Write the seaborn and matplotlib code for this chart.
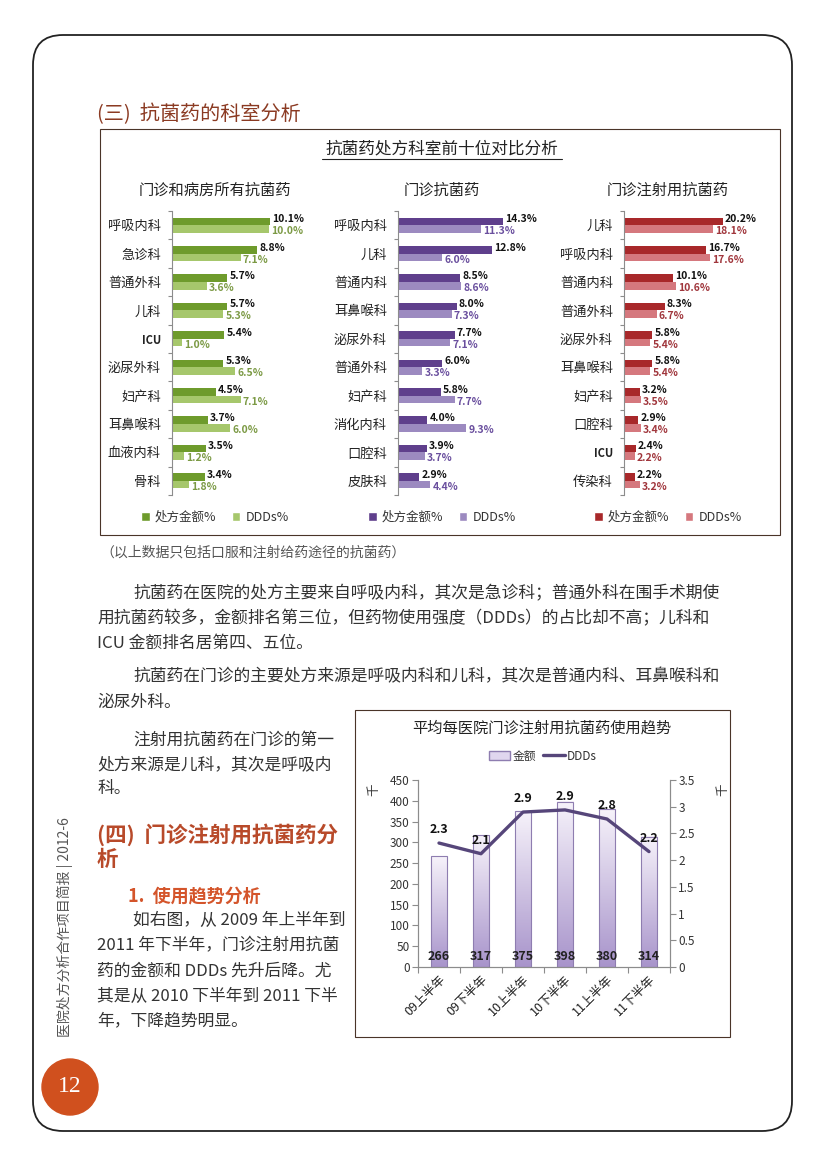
import numpy as np
import pandas as pd
import matplotlib
matplotlib.use('Agg')
import matplotlib.pyplot as plt
import seaborn as sns
from matplotlib.patches import FancyBboxPatch, Rectangle, Circle, Patch
from matplotlib.lines import Line2D
from matplotlib.colors import LinearSegmentedColormap

# 门诊和病房所有抗菌药（%）
dept_all = ['呼吸内科', '急诊科', '普通外科', '儿科', 'ICU', '泌尿外科', '妇产科', '耳鼻喉科', '血液内科', '骨科']
amt_all = [10.1, 8.8, 5.7, 5.7, 5.4, 5.3, 4.5, 3.7, 3.5, 3.4]
ddd_all = [10.0, 7.1, 3.6, 5.3, 1.0, 6.5, 7.1, 6.0, 1.2, 1.8]

# 门诊抗菌药（%）
dept_out = ['呼吸内科', '儿科', '普通内科', '耳鼻喉科', '泌尿外科', '普通外科', '妇产科', '消化内科', '口腔科', '皮肤科']
amt_out = [14.3, 12.8, 8.5, 8.0, 7.7, 6.0, 5.8, 4.0, 3.9, 2.9]
ddd_out = [11.3, 6.0, 8.6, 7.3, 7.1, 3.3, 7.7, 9.3, 3.7, 4.4]

# 门诊注射用抗菌药（%）
dept_inj = ['儿科', '呼吸内科', '普通内科', '普通外科', '泌尿外科', '耳鼻喉科', '妇产科', '口腔科', 'ICU', '传染科']
amt_inj = [20.2, 16.7, 10.1, 8.3, 5.8, 5.8, 3.2, 2.9, 2.4, 2.2]
ddd_inj = [18.1, 17.6, 10.6, 6.7, 5.4, 5.4, 3.5, 3.4, 2.2, 3.2]

# 平均每医院门诊注射用抗菌药使用趋势（千）
periods = ['09上半年', '09下半年', '10上半年', '10下半年', '11上半年', '11下半年']
amount = [266, 317, 375, 398, 380, 314]
ddds = [2.32, 2.12, 2.90, 2.94, 2.77, 2.16]

sns.set_theme(style='white')
plt.rcParams['font.family'] = ['Noto Sans CJK SC', 'DejaVu Sans']
plt.rcParams['axes.unicode_minus'] = False

W, H = 827, 1169
fig = plt.figure(figsize=(W / 100, H / 100), dpi=100)


def box(x0, y0, x1, y1):
    # 像素框 -> figure 坐标
    return [x0 / W, 1 - y1 / H, (x1 - x0) / W, (y1 - y0) / H]


page = fig.add_axes([0, 0, 1, 1])
page.set_xlim(0, W)
page.set_ylim(H, 0)
page.axis('off')

# 页面边框
page.add_patch(FancyBboxPatch((33, 35), 759, 1096, boxstyle='round,pad=0,rounding_size=30',
                              fill=False, edgecolor='#222222', lw=1.3))
page.add_patch(Rectangle((100, 129), 680, 406, fill=False, edgecolor='#4a3428', lw=0.8))
page.add_patch(Rectangle((355, 710), 375, 327, fill=False, edgecolor='#4a3428', lw=0.8))

page.text(97, 114, '(三)  抗菌药的科室分析', fontsize=14.5, color='#8b3a22', va='center')
page.text(442, 149, '抗菌药处方科室前十位对比分析', fontsize=12, color='#222222', ha='center', va='center')
page.plot([322, 562], [158.5, 158.5], color='#222222', lw=0.8)


def dept_panel(x0, x1, xmax, depts, amt, ddd, dark, light, lab_color, title, cx):
    ax = fig.add_axes(box(x0, 211, x1, 495))
    ax.set_facecolor('none')
    df = pd.DataFrame({'科室': depts * 2,
                       '指标': ['处方金额%'] * len(depts) + ['DDDs%'] * len(depts),
                       '占比': amt + ddd})
    sns.barplot(data=df, y='科室', x='占比', hue='指标', orient='h', palette=[dark, light],
                width=0.54, saturation=1, linewidth=0, legend=False, ax=ax)
    ax.set_xlim(0, xmax)
    ax.set_ylim(9.5, -0.5)
    ax.set_xlabel('')
    ax.set_ylabel('')
    ax.set_xticks([])
    for s in ['top', 'right', 'bottom']:
        ax.spines[s].set_visible(False)
    ax.spines['left'].set_color('#8c8c8c')
    ax.spines['left'].set_linewidth(0.8)
    ax.set_yticks(np.arange(-0.5, 10, 1), minor=True)
    ax.tick_params(axis='y', which='minor', left=True, length=3, width=0.8, color='#8c8c8c')
    ax.tick_params(axis='y', which='major', length=0, pad=8, labelsize=9.5, labelcolor='#222222')
    for t in ax.get_yticklabels():
        if t.get_text() == 'ICU':
            t.set_fontweight('bold')
            t.set_fontsize(8)
    for bar in ax.containers[0]:
        v = bar.get_width()
        ax.annotate(f'{v:.1f}%', (v, bar.get_y() + bar.get_height() / 2), xytext=(1.5, 1.5),
                    textcoords='offset points', ha='left', va='center', fontsize=7.5,
                    fontweight='bold', color='#111111')
    for bar in ax.containers[1]:
        v = bar.get_width()
        ax.annotate(f'{v:.1f}%', (v, bar.get_y() + bar.get_height() / 2), xytext=(1.5, -1.5),
                    textcoords='offset points', ha='left', va='center', fontsize=7.5,
                    fontstyle='italic', fontweight='bold', color=lab_color)
    page.text(cx, 190, title, fontsize=11, color='#222222', ha='center', va='center')
    fig.legend([Patch(facecolor=dark), Patch(facecolor=light)], ['处方金额%', 'DDDs%'],
               loc='center', bbox_to_anchor=(cx / W, 1 - 517 / H), ncol=2, frameon=False,
               fontsize=9, handlelength=0.7, handleheight=0.7, handletextpad=0.4,
               columnspacing=1.2, labelcolor='#333333')


dept_panel(172, 340, 168 / 9.7, dept_all, amt_all, ddd_all, '#6e9b2c', '#a6c76c', '#7c9a45',
           '门诊和病房所有抗菌药', 215)
dept_panel(398, 560, 162 / 7.34, dept_out, amt_out, ddd_out, '#5f3f8c', '#9c8ac0', '#6a4f9e',
           '门诊抗菌药', 442)
dept_panel(624, 775, 151 / 4.9, dept_inj, amt_inj, ddd_inj, '#a8282a', '#d5787e', '#a0363c',
           '门诊注射用抗菌药', 668)

# 正文
body = dict(fontsize=12.1, color='#333333', va='center')
page.text(100, 553, '（以上数据只包括口服和注射给药途径的抗菌药）', fontsize=10, color='#555555',
          va='center', fontstyle='italic')
page.text(133, 594, '抗菌药在医院的处方主要来自呼吸内科，其次是急诊科；普通外科在围手术期使', **body)
page.text(97, 619, '用抗菌药较多，金额排名第三位，但药物使用强度（DDDs）的占比却不高；儿科和', **body)
page.text(97, 643, 'ICU 金额排名居第四、五位。', **body)
page.text(133, 677, '抗菌药在门诊的主要处方来源是呼吸内科和儿科，其次是普通内科、耳鼻喉科和', **body)
page.text(97, 702, '泌尿外科。', **body)
page.text(133, 740, '注射用抗菌药在门诊的第一', **body)
page.text(97, 765, '处方来源是儿科，其次是呼吸内', **body)
page.text(97, 789, '科。', **body)
page.text(97, 835, '(四)  门诊注射用抗菌药分', fontsize=15.5, fontweight='bold', color='#b84a2a', va='center')
page.text(97, 859, '析', fontsize=15.5, fontweight='bold', color='#b84a2a', va='center')
page.text(128, 897, '1.  使用趋势分析', fontsize=13, fontweight='bold', color='#d4552b', va='center')
page.text(133, 920, '如右图，从 2009 年上半年到', **body)
page.text(97, 946, '2011 年下半年，门诊注射用抗菌', **body)
page.text(97, 971, '药的金额和 DDDs 先升后降。尤', **body)
page.text(97, 996, '其是从 2010 下半年到 2011 下半', **body)
page.text(97, 1021, '年，下降趋势明显。', **body)

page.text(65, 927, '医院处方分析合作项目简报 | 2012-6', rotation=90, ha='center', va='center',
          fontsize=10, color='#555555')
page.add_patch(Circle((70, 1087), 28, color='#d0501e'))
page.text(70, 1087, '12', family='Liberation Serif', fontsize=17, color='white', ha='center', va='center')

# 趋势图
page.text(542, 728, '平均每医院门诊注射用抗菌药使用趋势', fontsize=11, color='#222222', ha='center', va='center')
ax = fig.add_axes(box(418, 780, 670, 967))
ax.set_facecolor('none')
sns.barplot(x=periods, y=amount, ax=ax, width=0.4, color='#d8cce8', saturation=1,
            edgecolor='#8e7db0', linewidth=0.8)
cmap = LinearSegmentedColormap.from_list('bar', ['#a894cb', '#f6f2fa'])
grad = np.linspace(0, 1, 100).reshape(-1, 1)
for p in ax.patches:
    x, w, h = p.get_x(), p.get_width(), p.get_height()
    ax.imshow(grad, extent=(x, x + w, 0, h), origin='lower', cmap=cmap, aspect='auto', zorder=1.5)
    p.set_facecolor('none')
    p.set_zorder(2)
    ax.text(x + w / 2, 26, f'{h:.0f}', ha='center', va='center', fontsize=9,
            fontweight='bold', color='#222222', zorder=3)

ax2 = ax.twinx()
line_c = '#56467a'
sns.lineplot(x=np.arange(len(periods)), y=ddds, ax=ax2, color=line_c, linewidth=2.4)
for xv, yv in zip(np.arange(len(periods)), ddds):
    ax2.annotate(f'{yv:.1f}', (xv, yv), xytext=(0, 5), textcoords='offset points', ha='center',
                 va='bottom', fontsize=9, fontweight='bold', fontstyle='italic', color='#111111')

ax.set_xlim(-0.5, 5.5)
ax.set_ylim(0, 450)
ax2.set_ylim(0, 3.5)
ax.set_yticks(np.arange(0, 451, 50))
ax2.set_yticks(np.arange(0, 3.51, 0.5))
ax2.yaxis.set_major_formatter(matplotlib.ticker.FuncFormatter(lambda v, _: f'{v:g}'))
ax.set_xlabel('')
ax.set_ylabel('千', rotation=90, fontsize=9, color='#333333')
ax.yaxis.set_label_coords(-0.15, 0.95)
ax2.set_ylabel('千', rotation=90, fontsize=9, color='#333333')
ax2.yaxis.set_label_coords(1.185, 0.95)
for a in (ax, ax2):
    a.spines['top'].set_visible(False)
    for s in ['left', 'right', 'bottom']:
        a.spines[s].set_color('#8c8c8c')
        a.spines[s].set_linewidth(0.8)
ax.tick_params(axis='y', left=True, length=4, width=0.8, color='#8c8c8c', labelsize=8.5,
               labelcolor='#333333', pad=2)
ax2.tick_params(axis='y', right=True, length=4, width=0.8, color='#8c8c8c', labelsize=8.5,
                labelcolor='#333333', pad=2)
ax.set_xticks(np.arange(len(periods)))
ax.set_xticklabels(periods, rotation=45, ha='right', va='top', rotation_mode='anchor',
                   fontsize=9, color='#222222')
ax.set_xticks(np.arange(-0.5, 6, 1), minor=True)
ax.tick_params(axis='x', which='major', length=0, pad=4)
ax.tick_params(axis='x', which='minor', bottom=True, length=4, width=0.8, color='#8c8c8c')

fig.legend([Patch(facecolor='#e0d6ee', edgecolor='#8e7db0'), Line2D([0], [0], color=line_c, lw=2.4)],
           ['金额', 'DDDs'], loc='center', bbox_to_anchor=(543 / W, 1 - 756 / H), ncol=2,
           frameon=False, fontsize=8.5, handlelength=1.8, handletextpad=0.2, columnspacing=0.6,
           labelcolor='#333333')

fig.savefig('out.png', dpi=100)
